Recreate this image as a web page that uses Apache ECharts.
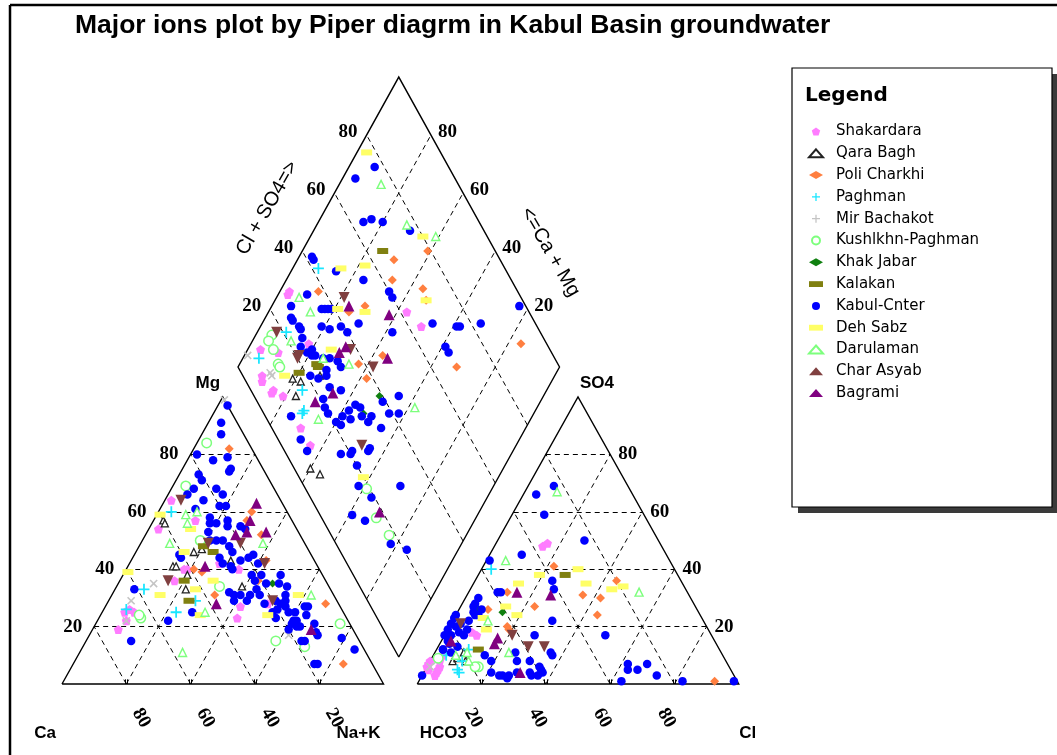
<!DOCTYPE html>
<html>
<head>
<meta charset="utf-8">
<title>Piper diagram - Kabul Basin groundwater</title>
<script src="https://cdn.jsdelivr.net/npm/echarts@6/dist/echarts.min.js"></script>
<style>
  html, body { margin: 0; padding: 0; background: #fff; }
  #chart { width: 1057px; height: 755px; }
</style>
</head>
<body>
<div id="chart"></div>
<script>
// Percent (meq) compositions for each sampling area.
// Cation triangle: [Mg, Na+K]      (Ca = 100 - Mg - Na+K)
// Anion triangle:  [SO4, Cl]       (HCO3 = 100 - SO4 - Cl)
// Diamond field:   [Cl+SO4, Ca+Mg]

const shakardaraCat = [[64,2],[57,13],[54,3],[40,19],[40,18],[36,17],[26,8],[25,10],[25,7],[22,9],[19,8],[42,28],[40,35],[28,50],[27,42],[23,43]];
const shakardaraAn  = [[48,15],[49,16],[18,8],[17,10],[7,0],[5,4],[3,4],[6,0],[8,3],[5,1],[10,3],[4,4],[6,4],[8,0]];
const shakardaraDm  = [[28,97],[29,97],[62,57],[64,50],[26,82],[10,96],[15,90],[6,91],[7,85],[9,81],[9,70],[9,64],[6,85],[5,90]];

const qaraBaghCat = [[57,3],[56,4],[47,20],[46,18],[41,14],[41,15],[38,20],[43,31],[34,39],[33,22]];
const qaraBaghAn  = [[8,7],[11,9],[9,8],[8,11]];
const qaraBaghDm  = [[15,81],[17,78],[24,73],[13,77],[5,60],[7,56]];

const poliCharkhiCat = [[82,11],[60,29],[57,29],[52,36],[43,42],[36,43],[40,21],[39,24],[31,32],[28,68],[7,84]];
const poliCharkhiAn  = [[36,44],[31,36],[30,42],[24,44],[41,22],[32,12],[26,9],[27,23],[20,18],[19,19],[1,92]];
const poliCharkhiDm  = [[79,61],[67,70],[63,67],[71,56],[70,53],[38,88],[50,71],[44,75],[92,16],[68,32],[38,58],[47,57],[38,63]];

const paghmanCat = [[60,4],[33,9],[29,27],[25,23],[26,7]];
const paghmanAn  = [[40,3],[10,4],[4,11],[12,10],[5,10],[8,10]];
const paghmanDm  = [[42,92],[21,91],[8,95],[16,76],[13,72],[12,72]];

const mirBachakotCat = [[99,1],[35,11],[29,7],[22,9],[17,62]];
const mirBachakotAn  = [[8,2],[6,1]];
const mirBachakotDm  = [[5,99],[9,89],[9,88],[10,39]];

const kushlkhnCat = [[84,3],[69,4],[50,18],[34,32],[23,13],[24,12],[21,76],[15,59],[13,69]];
const kushlkhnAn  = [[6,16],[6,15],[9,2]];
const kushlkhnDm  = [[16,95],[14,95],[13,88],[14,92],[13,87],[19,39],[17,31],[18,24]];

const khakJabarCat = [[35,48],[38,40]];
const khakJabarAn  = [[26,6],[25,14]];
const khakJabarDm  = [[39,51],[31,53]];

const kalakanCat = [[46,24],[36,20],[29,25],[48,20]];
const kalakanAn  = [[38,27],[12,13]];
const kalakanDm  = [[65,75],[25,76],[18,80],[25,75]];

const kabulCat = [[97,3],[91,4],[87,6],[80,2],[78,8],[79,12],[75,15],[73,6],[71,8],[68,7],[66,6],[64,12],[61,11],[74,15],[68,14],[66,17],[62,18],[62,20],[58,17],[56,18],[56,20],[57,23],[55,24],[55,28],[54,30],[53,19],[50,21],[50,23],[50,25],[48,28],[46,30],[45,14],[44,15],[44,27],[42,29],[41,32],[40,33],[43,34],[44,36],[45,37],[42,40],[38,40],[36,42],[38,43],[35,46],[38,49],[35,50],[34,53],[31,54],[32,36],[31,38],[29,39],[31,40],[29,43],[31,43],[33,44],[31,46],[28,49],[29,52],[28,54],[29,55],[26,54],[27,56],[25,53],[23,55],[25,58],[25,60],[27,62],[27,63],[22,61],[22,62],[24,64],[21,61],[20,63],[20,64],[19,61],[18,70],[17,71],[21,68],[15,67],[15,68],[16,79],[12,85],[7,75],[7,76],[33,6],[25,28],[22,22],[15,14]];
const kabulAn  = [[50,27],[17,50],[7,62],[5,63],[5,66],[7,68],[3,73],[1,63],[1,82],[1,98],[69,8],[66,4],[59,10],[45,10],[43,1],[36,24],[33,26],[32,9],[32,10],[30,4],[28,4],[27,4],[26,7],[25,5],[24,6],[24,7],[22,5],[22,31],[23,0],[24,0],[21,3],[21,0],[20,2],[18,4],[19,0],[19,6],[17,0],[17,2],[17,6],[15,2],[14,3],[13,6],[12,2],[11,5],[10,16],[8,19],[4,21],[3,24],[3,25],[3,27],[2,27],[4,29],[4,33],[3,36],[3,34],[5,36],[4,37],[6,35],[8,27],[8,31],[11,25],[10,37],[11,36],[17,28],[3,0],[12,2]];
const kabulDm  = [[77,92],[69,96],[64,86],[67,84],[70,80],[77,70],[42,96],[42,95],[47,86],[54,76],[60,66],[60,64],[34,91],[27,94],[37,83],[38,82],[25,92],[26,88],[33,81],[35,78],[39,75],[40,72],[45,70],[54,58],[68,47],[75,39],[76,38],[83,32],[98,23],[68,39],[68,37],[36,84],[39,81],[25,91],[26,87],[25,85],[23,84],[26,80],[26,78],[24,81],[25,79],[28,75],[30,73],[32,70],[32,68],[21,76],[23,73],[27,72],[26,71],[25,68],[28,64],[21,68],[20,66],[20,64],[21,60],[24,59],[27,58],[22,58],[26,56],[30,57],[31,55],[30,53],[31,50],[33,50],[39,49],[39,45],[42,42],[26,45],[20,50],[8,75],[7,68],[7,64],[17,53],[21,50],[27,45],[20,46],[17,42],[19,36],[13,34],[17,22],[21,16],[30,29],[45,45],[34,45],[10,39]];

const dehSabzCat = [[39,1],[59,1],[54,13],[46,15],[36,29],[31,15],[33,25],[31,58],[24,52],[24,31]];
const dehSabzAn  = [[40,30],[35,35],[33,44],[34,47],[38,19],[35,14],[19,12],[27,14],[24,19],[23,9]];
const dehSabzDm  = [[77,97],[80,65],[70,53],[57,78],[49,85],[41,79],[49,70],[13,84],[32,74],[20,42]];

const darulamanCat = [[59,9],[56,11],[49,9],[60,12],[25,32],[11,32],[49,38],[31,62]];
const darulamanAn  = [[67,10],[43,6],[32,53],[22,11],[8,12],[11,23],[10,7],[11,10]];
const darulamanDm  = [[76,87],[77,72],[84,61],[31,93],[32,87],[21,88],[28,75],[35,66],[16,66],[48,38]];

const charAsyabCat = [[64,5],[49,21],[49,31],[42,42],[29,51],[36,15]];
const charAsyabAn  = [[21,3],[17,21],[13,28],[13,33]];
const charAsyabDm  = [[45,79],[18,94],[21,83],[20,83],[42,58],[38,68],[25,48]];

const bagramiCat = [[63,29],[57,30],[52,28],[53,31],[53,37],[41,24],[28,34],[19,68]];
const bagramiAn  = [[31,26],[32,15],[16,17],[14,17],[4,30],[15,3]];
const bagramiDm  = [[45,76],[56,62],[25,66],[18,70],[34,71],[37,70],[48,55],[19,31]];

// Percent gridline / tick values shared by the three fields
const gridTicks = [20, 40, 60, 80];

// ---- Piper geometry (triangle side = 100 units) ----
const SIDE = 100;
const TH = SIDE * Math.sqrt(3) / 2;       // triangle height
const ANION_X = 110.5;                    // left corner of the anion triangle
const DIAMOND_B = [104.75, 8.15];         // bottom corner of the diamond
const DH = 87.5;                          // diamond half height

const catXY = (mg, na) => [na + mg / 2, mg * TH / 100];
const anXY  = (so4, cl) => [ANION_X + cl + so4 / 2, so4 * TH / 100];
const dmXY  = (a, b) => [DIAMOND_B[0] + (a - b) / 2, DIAMOND_B[1] + (a + b) * DH / 100];

// axis ranges so that one unit covers the same pixels as the plotted frame
const X0 = 62, XS = 3.215, Y0 = 684, YS = 3.314, W = 1057, HP = 755;

const PENT  = 'path://M0,-10 L9.5,-3.1 L5.9,8.1 L-5.9,8.1 L-9.5,-3.1 Z';
const PLUS  = 'path://M-1.6,-10 H1.6 V-1.6 H10 V1.6 H1.6 V10 H-1.6 V1.6 H-10 V-1.6 H-1.6 Z';
const DASH  = 'path://M0,0 H12 V5 H0 Z';

const groups = [
  { name: 'Shakardara', cat: shakardaraCat, an: shakardaraAn, dm: shakardaraDm, symbol: PENT, size: 9, style: { color: '#ff7cff' } },
  { name: 'Qara Bagh', cat: qaraBaghCat, an: qaraBaghAn, dm: qaraBaghDm, symbol: 'triangle', size: 7, style: { color: '#ffffff', borderColor: '#222', borderWidth: 1.3 } },
  { name: 'Poli Charkhi', cat: poliCharkhiCat, an: poliCharkhiAn, dm: poliCharkhiDm, symbol: 'diamond', size: 9, style: { color: '#ff7f40' } },
  { name: 'Paghman', cat: paghmanCat, an: paghmanAn, dm: paghmanDm, symbol: PLUS, size: 11, style: { color: '#19e6ff' } },
  { name: 'Mir Bachakot', cat: mirBachakotCat, an: mirBachakotAn, dm: mirBachakotDm, symbol: PLUS, size: 10, rotate: 45, style: { color: '#c4c4c4' } },
  { name: 'Kushlkhn-Paghman', cat: kushlkhnCat, an: kushlkhnAn, dm: kushlkhnDm, symbol: 'circle', size: 9.5, style: { color: '#ffffff', borderColor: '#7dff7d', borderWidth: 1.5 } },
  { name: 'Khak Jabar', cat: khakJabarCat, an: khakJabarAn, dm: khakJabarDm, symbol: 'diamond', size: 8, style: { color: '#108010' } },
  { name: 'Kalakan', cat: kalakanCat, an: kalakanAn, dm: kalakanDm, symbol: DASH, size: [11, 6], style: { color: '#808010' } },
  { name: 'Kabul-Cnter', cat: kabulCat, an: kabulAn, dm: kabulDm, symbol: 'circle', size: 8.5, style: { color: '#0000ff' } },
  { name: 'Deh Sabz', cat: dehSabzCat, an: dehSabzAn, dm: dehSabzDm, symbol: DASH, size: [11, 6], style: { color: '#ffff66' } },
  { name: 'Darulaman', cat: darulamanCat, an: darulamanAn, dm: darulamanDm, symbol: 'triangle', size: 8, style: { color: '#ffffff', borderColor: '#7dff7d', borderWidth: 1.4 } },
  { name: 'Char Asyab', cat: charAsyabCat, an: charAsyabAn, dm: charAsyabDm, symbol: 'triangle', size: 11, rotate: 180, style: { color: '#804040' } },
  { name: 'Bagrami', cat: bagramiCat, an: bagramiAn, dm: bagramiDm, symbol: 'triangle', size: 11, style: { color: '#800080' } }
];

// Outlines of the two triangles and the diamond
const frames = [
  [catXY(0, 0), catXY(0, 100), catXY(100, 0), catXY(0, 0)],
  [anXY(0, 0), anXY(0, 100), anXY(100, 0), anXY(0, 0)],
  [dmXY(0, 0), dmXY(100, 0), dmXY(100, 100), dmXY(0, 100), dmXY(0, 0)]
];

// Dashed 20 % gridlines in every field
const gridSegs = [];
gridTicks.forEach(p => {
  gridSegs.push([catXY(p, 0), catXY(p, 100 - p)]);
  gridSegs.push([catXY(0, p), catXY(100 - p, p)]);
  gridSegs.push([catXY(0, 100 - p), catXY(100 - p, 0)]);
  gridSegs.push([anXY(p, 0), anXY(p, 100 - p)]);
  gridSegs.push([anXY(0, p), anXY(100 - p, p)]);
  gridSegs.push([anXY(0, 100 - p), anXY(100 - p, 0)]);
  gridSegs.push([dmXY(p, 0), dmXY(p, 100)]);
  gridSegs.push([dmXY(0, p), dmXY(100, p)]);
});

// Short double tick marks on the two base lines
const tickSegs = [];
gridTicks.forEach(p => {
  [catXY(0, p), anXY(0, p)].forEach(([x, y]) => {
    tickSegs.push([[x - 0.35, y], [x - 0.35, y + 1.4]]);
    tickSegs.push([[x + 0.35, y], [x + 0.35, y + 1.4]]);
  });
});

const chart = echarts.init(document.getElementById('chart'));

const pointSeries = groups.map(g => ({
  type: 'scatter',
  name: g.name,
  symbol: g.symbol,
  symbolSize: g.size,
  symbolRotate: g.rotate || 0,
  itemStyle: Object.assign({ opacity: 1 }, g.style),
  data: [
    ...g.cat.map(d => catXY(d[0], d[1])),
    ...g.an.map(d => anXY(d[0], d[1])),
    ...g.dm.map(d => dmXY(d[0], d[1]))
  ],
  z: 4
}));

chart.setOption({
  animation: false,
  backgroundColor: '#fff',
  title: {
    text: 'Major ions plot by Piper diagrm in Kabul Basin groundwater',
    left: 70, top: 7,
    textStyle: { fontFamily: 'Liberation Sans', fontWeight: 'bold', fontSize: 26.5, color: '#000' }
  },
  grid: { left: 0, right: 0, top: 0, bottom: 0 },
  xAxis: { type: 'value', min: -X0 / XS, max: (W - X0) / XS, show: false },
  yAxis: { type: 'value', min: -(HP - Y0) / YS, max: Y0 / YS, show: false },
  legend: {
    orient: 'vertical', left: 808, top: 124, padding: 0,
    itemWidth: 14, itemHeight: 8, itemGap: 6.8,
    selectedMode: false,
    textStyle: { fontFamily: 'DejaVu Sans', fontSize: 15, color: '#000', lineHeight: 14, padding: [0, 0, 0, 8] },
    data: groups.map(g => g.name),
    z: 10
  },
  series: [
    {
      type: 'lines', coordinateSystem: 'cartesian2d', polyline: false, silent: true, z: 1,
      lineStyle: { color: '#000', width: 1, type: [5, 4], opacity: 1 },
      data: gridSegs.map(c => ({ coords: c }))
    },
    {
      type: 'lines', coordinateSystem: 'cartesian2d', polyline: false, silent: true, z: 2,
      lineStyle: { color: '#000', width: 1, opacity: 1 },
      data: tickSegs.map(c => ({ coords: c }))
    },
    {
      type: 'lines', coordinateSystem: 'cartesian2d', polyline: true, silent: true, z: 2,
      lineStyle: { color: '#000', width: 1.4, opacity: 1 },
      data: frames.map(c => ({ coords: c }))
    },
    ...pointSeries
  ]
});

// ---- text labels placed from the field geometry ----
const px = pt => chart.convertToPixel({ gridIndex: 0 }, pt);
const numFont = 'bold 19px "Liberation Serif"';
const txt = (x, y, text, opt, rotation) => ({
  type: 'text', x, y, rotation: rotation || 0, silent: true, z: 20,
  style: Object.assign({ text, font: numFont, fill: '#000', align: 'center', verticalAlign: 'middle' }, opt || {})
});
const R60 = Math.PI / 3;

const labels = [];
gridTicks.forEach(p => {
  // Mg scale on the left side of the cation triangle
  let [x, y] = px(catXY(p, 0));
  labels.push(txt(x - 12, y, String(p), { align: 'right' }));
  // SO4 scale on the right side of the anion triangle
  [x, y] = px(anXY(p, 100 - p));
  labels.push(txt(x + 8, y, String(p), { align: 'left' }));
  // Ca scale along the cation base
  [x, y] = px(catXY(0, 100 - p));
  labels.push(txt(x + 15, 718, String(p), null, -R60));
  // Cl scale along the anion base
  [x, y] = px(anXY(0, p));
  labels.push(txt(x - 8, 718, String(p), null, -R60));
  // Cl+SO4 scale on the upper-left side of the diamond
  [x, y] = px(dmXY(p, 100));
  labels.push(txt(x - 9, y - 3, String(p), { align: 'right' }));
  // Ca+Mg scale on the upper-right side of the diamond
  [x, y] = px(dmXY(100, p));
  labels.push(txt(x + 7, y - 3, String(p), { align: 'left' }));
});

const ionFont = 'bold 17px "Liberation Sans"';
const apexMg = px(catXY(100, 0));
const apexSO4 = px(anXY(100, 0));
const ca = px(catXY(0, 0)), nak = px(catXY(0, 100)), hco3 = px(anXY(0, 0)), cl = px(anXY(0, 100));
labels.push(txt(apexMg[0] - 15, apexMg[1] - 14, 'Mg', { font: ionFont }));
labels.push(txt(apexSO4[0] + 19, apexSO4[1] - 14, 'SO4', { font: ionFont }));
labels.push(txt(ca[0] - 17, 733, 'Ca', { font: ionFont }));
labels.push(txt(nak[0] - 25, 733, 'Na+K', { font: ionFont }));
labels.push(txt(hco3[0] + 26, 733, 'HCO3', { font: ionFont }));
labels.push(txt(cl[0] + 9, 733, 'Cl', { font: ionFont }));

const axisFont = '20px "Liberation Sans"';
const leftMid = px(dmXY(50, 100));
const rightMid = px(dmXY(100, 50));
labels.push(txt(leftMid[0] - 51, leftMid[1] - 14, 'Cl + SO4=>', { font: axisFont }, R60));
labels.push(txt(rightMid[0] + 71, rightMid[1] + 30, '<=Ca + Mg', { font: axisFont }, -R60));

chart.setOption({
  graphic: [
    // page frame (top and left rules)
    { type: 'line', silent: true, z: 0, shape: { x1: 10, y1: 5, x2: W, y2: 5 }, style: { stroke: '#000', lineWidth: 2.5 } },
    { type: 'line', silent: true, z: 0, shape: { x1: 10, y1: 5, x2: 10, y2: HP }, style: { stroke: '#000', lineWidth: 2.5 } },
    // legend panel with drop shadow
    { type: 'rect', silent: true, z: 0, shape: { x: 798, y: 74, width: 260, height: 439 }, style: { fill: '#3a3a3a' } },
    { type: 'rect', silent: true, z: 0, shape: { x: 792, y: 68, width: 260, height: 439 }, style: { fill: '#fff', stroke: '#000', lineWidth: 1.2 } },
    { type: 'text', silent: true, z: 1, x: 805, y: 96, style: { text: 'Legend', font: 'bold 20px "DejaVu Sans"', fill: '#000', verticalAlign: 'middle' } },
    ...labels
  ]
});
</script>
</body>
</html>
